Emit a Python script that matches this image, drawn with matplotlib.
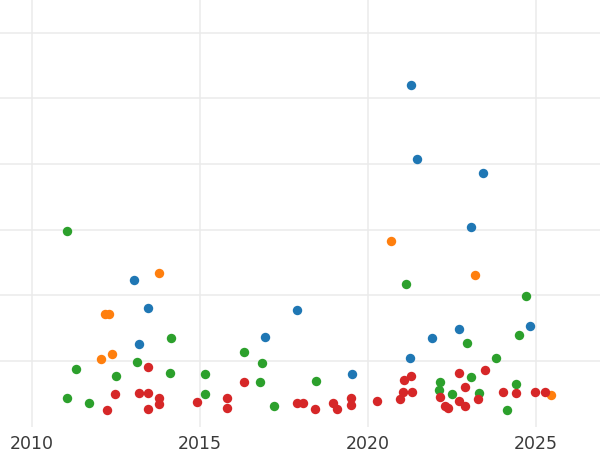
import matplotlib
matplotlib.use("Agg")
import matplotlib.pyplot as plt

# values (x = year, y = arbitrary units)
blue_x = [2021.27, 2021.45, 2023.42, 2023.07, 2013.04, 2013.47, 2017.88, 2016.94,
          2013.18, 2021.90, 2022.70, 2024.82, 2021.25, 2019.53]
blue_y = [52.03, 40.76, 38.56, 30.36, 22.34, 18.14, 17.77, 13.70,
          12.53, 13.55, 14.95, 15.33, 10.51, 7.96]

orange_x = [2020.70, 2023.18, 2013.80, 2012.18, 2012.31, 2012.06, 2012.40, 2025.44]
orange_y = [28.34, 23.16, 23.34, 17.13, 17.13, 10.31, 11.13, 4.89]

green_x = [2011.05, 2021.12, 2024.70, 2014.15, 2022.94, 2024.50, 2023.80, 2016.31,
           2011.31, 2013.14, 2012.50, 2014.11, 2015.15, 2016.85, 2016.78, 2018.47,
           2015.15, 2017.20, 2011.05, 2011.70, 2022.14, 2022.12, 2022.50, 2023.07,
           2023.31, 2024.39, 2024.12]
green_y = [29.74, 21.73, 19.95, 13.55, 12.70, 13.92, 10.51, 11.33,
           8.74, 9.90, 7.72, 8.13, 7.98, 9.75, 6.76, 6.96,
           4.93, 3.11, 4.32, 3.56, 6.76, 5.59, 4.93, 7.52,
           5.18, 6.55, 2.54]

red_x = [2013.47, 2012.49, 2013.18, 2013.47, 2013.80, 2013.80, 2012.23, 2013.47,
         2014.91, 2015.82, 2015.82, 2016.32, 2017.90, 2018.06, 2018.44, 2018.97,
         2019.09, 2019.51, 2019.51, 2020.26, 2020.95, 2021.04, 2021.08, 2021.29,
         2021.31, 2022.14, 2022.30, 2022.37, 2022.70, 2022.71, 2022.90, 2022.90,
         2023.28, 2023.49, 2024.03, 2024.40, 2024.96, 2025.25]
red_y = [9.14, 4.93, 5.13, 5.13, 4.37, 3.50, 2.54, 2.74,
         3.76, 4.32, 2.89, 6.76, 3.56, 3.56, 2.74, 3.56,
         2.70, 4.32, 3.30, 3.91, 4.26, 5.33, 7.11, 7.72,
         5.33, 4.52, 3.15, 2.89, 3.91, 8.13, 6.09, 3.11,
         4.26, 8.68, 5.33, 5.13, 5.33, 5.33]

year_ticks = [2010, 2015, 2020, 2025]
value_grid = [10, 20, 30, 40, 50, 60]

fig = plt.figure(figsize=(6, 4.5), dpi=100)
ax = fig.add_axes([0, 23.3 / 450, 1, 426.7 / 450])

for xs, ys, c in [(blue_x, blue_y, "#1f77b4"), (orange_x, orange_y, "#ff7f0e"),
                  (green_x, green_y, "#2ca02c"), (red_x, red_y, "#d62728")]:
    ax.scatter(xs, ys, s=46, color=c, linewidths=0, zorder=3)

ax.set_xlim(2009.06, 2026.90)
ax.set_ylim(0, 64.98)
ax.set_xticks(year_ticks)
ax.set_xticklabels([str(y) for y in year_ticks])
ax.set_yticks(value_grid)
ax.set_yticklabels([])
ax.tick_params(axis="both", length=0, labelsize=12.5, labelcolor="#3a3a3a", pad=6)
ax.grid(True, color="#ebebeb", linewidth=1.1, zorder=0)
for s in ax.spines.values():
    s.set_visible(False)

fig.savefig("out.png", dpi=100)
